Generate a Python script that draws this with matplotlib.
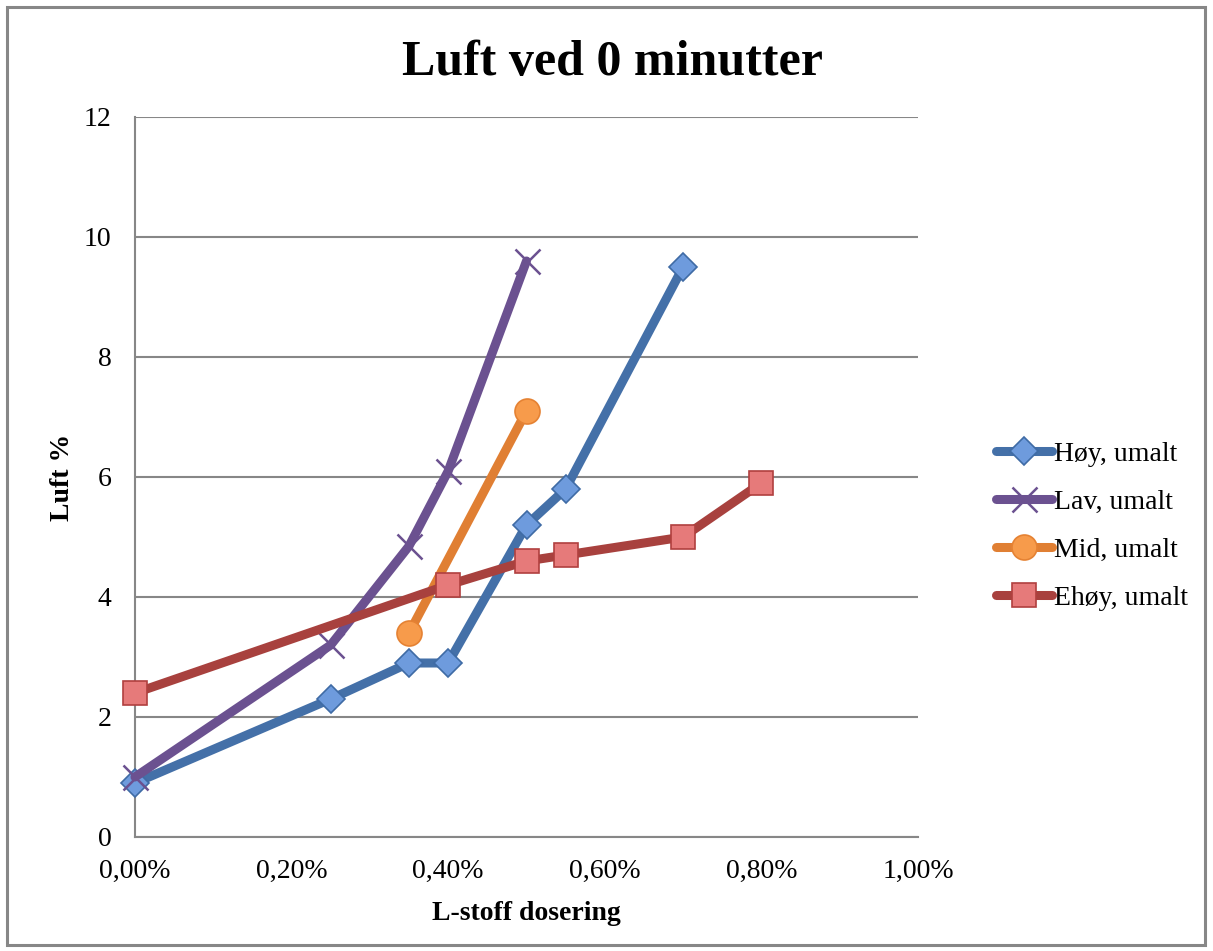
import matplotlib
matplotlib.use("Agg")
import matplotlib.pyplot as plt
from matplotlib.ticker import FuncFormatter, MultipleLocator
from matplotlib.patches import Rectangle

plt.rcParams['font.family'] = ['Liberation Serif', 'DejaVu Serif']

title = "Luft ved 0 minutter"
xlabel = "L-stoff dosering"
ylabel = "Luft %"

hoy_x = [0.0, 0.0025, 0.0035, 0.004, 0.005, 0.0055, 0.007]
hoy_y = [0.9, 2.3, 2.9, 2.9, 5.2, 5.8, 9.5]
lav_x = [0.0, 0.0025, 0.0035, 0.004, 0.005]
lav_y = [1.0, 3.2, 4.85, 6.1, 9.6]
mid_x = [0.0035, 0.005]
mid_y = [3.4, 7.1]
ehoy_x = [0.0, 0.004, 0.005, 0.0055, 0.007, 0.008]
ehoy_y = [2.4, 4.2, 4.6, 4.7, 5.0, 5.9]

series = [
    ("Høy, umalt", hoy_x, hoy_y, dict(color="#4470A8", marker="D", markersize=14,
                                      markerfacecolor="#6E9BDD", markeredgecolor="#3F6BA5", markeredgewidth=1.2)),
    ("Lav, umalt", lav_x, lav_y, dict(color="#6B5190", marker="x", markersize=18,
                                      markeredgecolor="#6B5190", markeredgewidth=1.8)),
    ("Mid, umalt", mid_x, mid_y, dict(color="#E07F33", marker="o", markersize=18,
                                      markerfacecolor="#F79B4B", markeredgecolor="#E58233", markeredgewidth=1.2)),
    ("Ehøy, umalt", ehoy_x, ehoy_y, dict(color="#A8413E", marker="s", markersize=17,
                                        markerfacecolor="#E67A7A", markeredgecolor="#B0403F", markeredgewidth=1.2)),
]

fig = plt.figure(figsize=(12.13, 9.51), dpi=100)
fig.patches.append(Rectangle((7/1213, 6/951), 1198/1213, 938/951, transform=fig.transFigure,
                             fill=False, edgecolor="#878787", linewidth=2.2))
ax = fig.add_axes([135/1213, 1-837/951, (918-135)/1213, (837-117)/951])

for i, (name, xs, ys, st) in enumerate(series):
    ax.plot(xs, ys, label=name, linewidth=6.5, solid_capstyle="round", solid_joinstyle="round",
            zorder=3+i, clip_on=False, **st)

ax.set_xlim(0, 0.01)
ax.set_ylim(0, 12)
ax.xaxis.set_major_locator(MultipleLocator(0.002))
ax.yaxis.set_major_locator(MultipleLocator(2))
ax.xaxis.set_major_formatter(FuncFormatter(lambda v, p: f"{v*100:.2f}%".replace(".", ",")))
ax.yaxis.set_major_formatter(FuncFormatter(lambda v, p: f"{v:.0f}"))
ax.grid(axis="y", color="#878787", linewidth=1.5)
ax.set_axisbelow(True)
for s in ["top", "right"]:
    ax.spines[s].set_visible(False)
for s in ["left", "bottom"]:
    ax.spines[s].set_color("#878787")
    ax.spines[s].set_linewidth(1.5)
ax.tick_params(axis="both", length=0, labelsize=20)
ax.tick_params(axis="y", pad=17)
ax.tick_params(axis="x", pad=16)

ax.set_title(title, fontsize=36, fontweight="bold", pad=30, x=(612-135)/(918-135))
ax.set_xlabel(xlabel, fontsize=20, fontweight="bold", labelpad=12)
ax.set_ylabel(ylabel, fontsize=20, fontweight="bold")
ax.yaxis.set_label_coords((75-135)/783, 0.5)

leg = ax.legend(loc="center left", bbox_to_anchor=(985/1213, 1-526/951), bbox_transform=fig.transFigure,
                frameon=False, fontsize=20, handlelength=2.0, handletextpad=0.1, labelspacing=0.81,
                borderaxespad=0)

fig.savefig("out.png", dpi=100)
